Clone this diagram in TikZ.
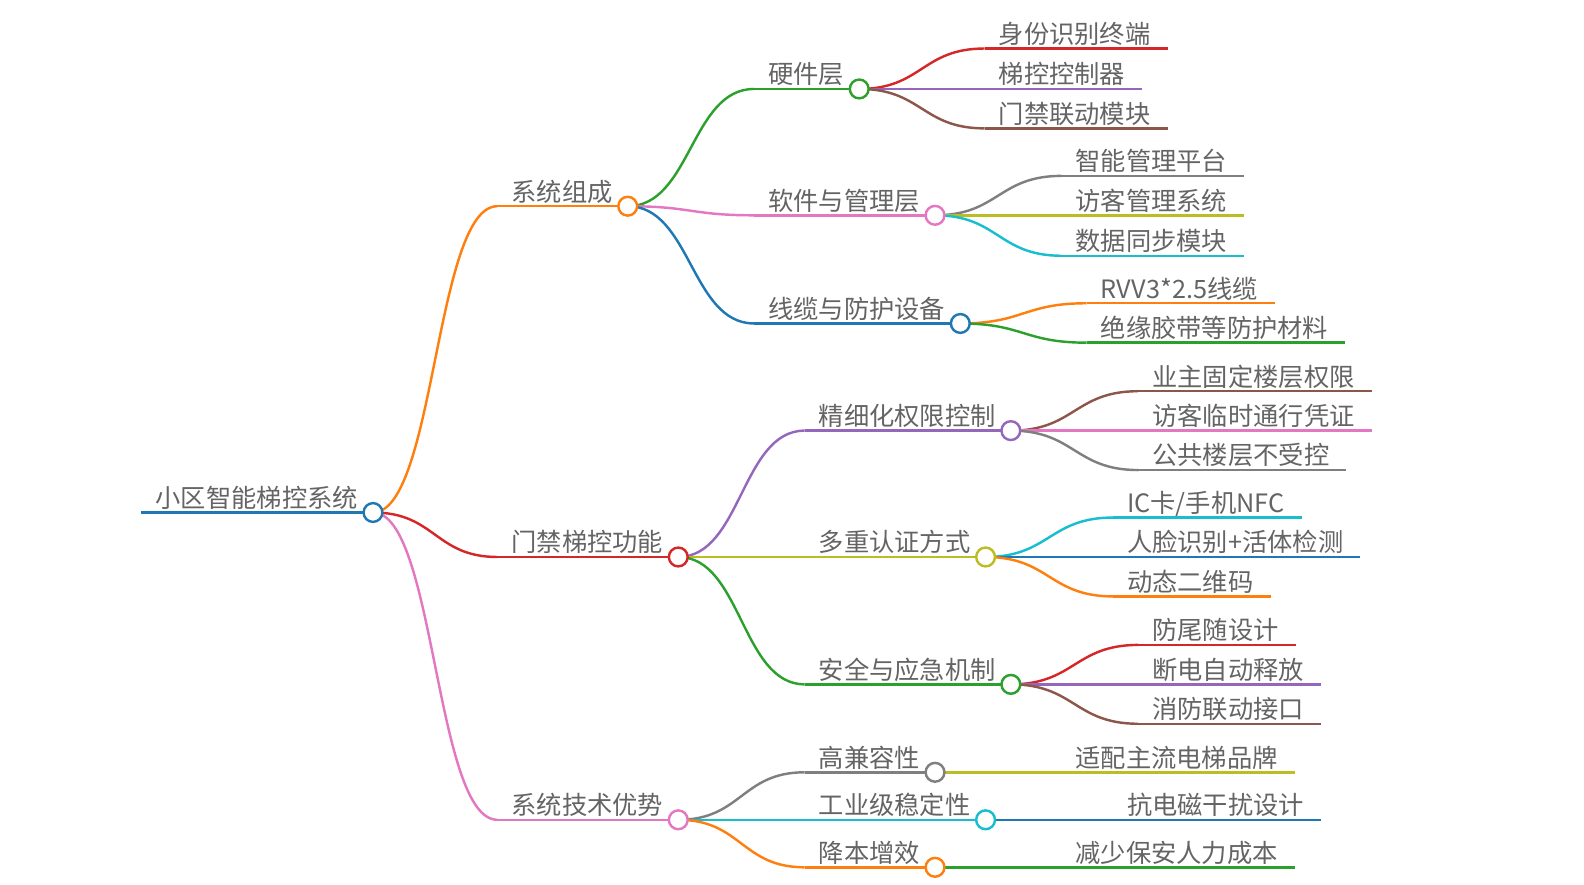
\documentclass[tikz,border=0pt]{standalone}
\usepackage{fontspec}
\setmainfont{Noto Sans CJK SC}
\usetikzlibrary{calc}
\pgfdeclarelayer{fg}
\pgfsetlayers{main,fg}
\definecolor{cblue}{HTML}{1F77B4}
\definecolor{corange}{HTML}{FF7F0E}
\definecolor{cgreen}{HTML}{2CA02C}
\definecolor{cred}{HTML}{D62728}
\definecolor{cpurple}{HTML}{9467BD}
\definecolor{cbrown}{HTML}{8C564B}
\definecolor{cpink}{HTML}{E377C2}
\definecolor{cgray}{HTML}{7F7F7F}
\definecolor{colive}{HTML}{BCBD22}
\definecolor{ccyan}{HTML}{17BECF}
\definecolor{textgray}{RGB}{100,100,100}
\tikzset{
  txt/.style={inner sep=0pt, outer sep=0pt, text=textgray, font=\fontsize{25}{30}\selectfont, anchor=base west},
  link/.style={line width=2.4pt},
  mmdot/.style={circle, draw, line width=2.4pt, fill=white, minimum size=18.6pt, inner sep=0pt, outer sep=0pt},
}
% #1 name, #2 parent, #3 colour, #4 text x, #5 line y, #6 text
\newcommand\mmbranch[6]{%
  \coordinate (#1s) at (#4-14,#5);
  \node[txt] (#1t) at (#4,#5-5) {#6};
  \coordinate (#1c) at ($(#1t.base east)+(15,5)$);
  \draw[link,#3] let \p1=(#2c), \p2=(#1s) in (\p1) .. controls ({(\x1+\x2)/2},\y1) and ({(\x1+\x2)/2},\y2) .. (\p2);
  \draw[link,#3] (#1s) -- (#1c);
  \begin{pgfonlayer}{fg}\node[mmdot,draw=#3] (#1d) at (#1c) {};\end{pgfonlayer}
}
\newcommand\mmleaf[6]{%
  \coordinate (#1s) at (#4-14,#5);
  \node[txt] (#1t) at (#4,#5-5) {#6};
  \coordinate (#1e) at ($(#1t.base east)+(17,5)$);
  \draw[link,#3] let \p1=(#2c), \p2=(#1s) in (\p1) .. controls ({(\x1+\x2)/2},\y1) and ({(\x1+\x2)/2},\y2) .. (\p2);
  \draw[link,#3] (#1s) -- (#1e);
}
\begin{document}
\begin{tikzpicture}[x=1pt,y=-1pt]
\useasboundingbox[fill=white] (0,0) rectangle (1567,875);
% root
\coordinate (roots) at (139,507);
\node[txt] (roott) at (154,502) {小区智能梯控系统};
\coordinate (rootc) at ($(roott.base east)+(15,5)$);
\draw[link,cblue] (roots) -- (rootc);
\begin{pgfonlayer}{fg}\node[mmdot,draw=cblue] (rootd) at (rootc) {};\end{pgfonlayer}
% level 1
\mmbranch{a}{root}{corange}{506}{204}{系统组成}
\mmbranch{b}{root}{cred}{506}{551}{门禁梯控功能}
\mmbranch{c}{root}{cpink}{506}{811}{系统技术优势}
% under a
\mmbranch{aa}{a}{cgreen}{760}{88}{硬件层}
\mmbranch{ab}{a}{cpink}{760}{213}{软件与管理层}
\mmbranch{ac}{a}{cblue}{760}{320}{线缆与防护设备}
\mmleaf{aaa}{aa}{cred}{988}{48}{身份识别终端}
\mmleaf{aab}{aa}{cpurple}{988}{88}{梯控控制器}
\mmleaf{aac}{aa}{cbrown}{988}{127}{门禁联动模块}
\mmleaf{aba}{ab}{cgray}{1064}{174}{智能管理平台}
\mmleaf{abb}{ab}{colive}{1064}{213}{访客管理系统}
\mmleaf{abc}{ab}{ccyan}{1064}{253}{数据同步模块}
\mmleaf{aca}{ac}{corange}{1089}{300}{RVV3*2.5线缆}
\mmleaf{acb}{ac}{cgreen}{1089}{339}{绝缘胶带等防护材料}
% under b
\mmbranch{ba}{b}{cpurple}{810}{426}{精细化权限控制}
\mmbranch{bb}{b}{colive}{810}{551}{多重认证方式}
\mmbranch{bc}{b}{cgreen}{810}{677}{安全与应急机制}
\mmleaf{baa}{ba}{cbrown}{1140}{387}{业主固定楼层权限}
\mmleaf{bab}{ba}{cpink}{1140}{426}{访客临时通行凭证}
\mmleaf{bac}{ba}{cgray}{1140}{465}{公共楼层不受控}
\mmleaf{bba}{bb}{ccyan}{1115}{512}{IC卡/手机NFC}
\mmleaf{bbb}{bb}{cblue}{1115}{551}{人脸识别+活体检测}
\mmleaf{bbc}{bb}{corange}{1115}{590}{动态二维码}
\mmleaf{bca}{bc}{cred}{1140}{638}{防尾随设计}
\mmleaf{bcb}{bc}{cpurple}{1140}{677}{断电自动释放}
\mmleaf{bcc}{bc}{cbrown}{1140}{716}{消防联动接口}
% under c
\mmbranch{ca}{c}{cgray}{810}{764}{高兼容性}
\mmbranch{cb}{c}{ccyan}{810}{811}{工业级稳定性}
\mmbranch{cc}{c}{corange}{810}{858}{降本增效}
\mmleaf{caa}{ca}{colive}{1064}{764}{适配主流电梯品牌}
\mmleaf{cba}{cb}{cblue}{1115}{811}{抗电磁干扰设计}
\mmleaf{cca}{cc}{cgreen}{1064}{858}{减少保安人力成本}
\end{tikzpicture}
\end{document}
